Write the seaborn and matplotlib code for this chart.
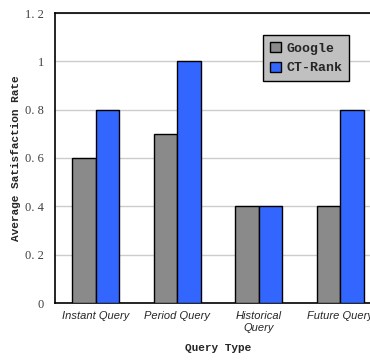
import pandas as pd
import matplotlib
matplotlib.use("Agg")
import matplotlib.pyplot as plt
import seaborn as sns

categories = ["Instant Query", "Period Query", "Historical\nQuery", "Future Query"]
google = [0.6, 0.7, 0.4, 0.4]
ct_rank = [0.8, 1.0, 0.4, 0.8]
series_names = ["Google", "CT-Rank"]
y_ticks = [0, 0.2, 0.4, 0.6, 0.8, 1.0, 1.2]
y_tick_labels = ["0", "0. 2", "0. 4", "0. 6", "0. 8", "1", "1. 2"]

df = pd.DataFrame({
    "category": categories * 2,
    "value": google + ct_rank,
    "series": [series_names[0]] * len(categories) + [series_names[1]] * len(categories),
})

sns.set_style("white")

fig = plt.figure(figsize=(3.7, 3.6), dpi=100)
ax = fig.add_axes([55 / 370, 57 / 360, 326 / 370, 290 / 360])

sns.barplot(data=df, x="category", y="value", hue="series", order=categories,
            hue_order=series_names, palette=["#8a8a8a", "#3366ff"],
            width=0.58, edgecolor="black", linewidth=1.0, saturation=1,
            ax=ax, zorder=3)

ax.set_xlim(-0.5, 3.5)
ax.set_ylim(0, 1.2)
ax.set_yticks(y_ticks)
ax.set_yticklabels(y_tick_labels, family="Liberation Serif", fontsize=9, color="#404040")
for lab in ax.get_xticklabels():
    lab.set_family("Liberation Sans")
    lab.set_style("italic")
    lab.set_fontsize(8)
ax.tick_params(axis="x", length=0, pad=6)
ax.tick_params(axis="y", length=0, pad=8)
ax.set_xticks([0.5, 1.5, 2.5], minor=True)
ax.tick_params(axis="x", which="minor", direction="in", length=4, width=0.8, color="#444444")

ax.yaxis.grid(True, color="#cccccc", linewidth=1.0, zorder=0)
ax.set_axisbelow(True)
for side in ["left", "bottom", "top"]:
    ax.spines[side].set_color("black")
    ax.spines[side].set_linewidth(1.2)
ax.spines["right"].set_visible(False)

ax.set_xlabel("Query Type", family="Liberation Mono", fontweight="bold", fontsize=8, labelpad=7)
ax.set_ylabel("Average Satisfaction Rate", family="Liberation Mono", fontweight="bold", fontsize=8, labelpad=3)

leg = ax.legend(loc="upper left", bbox_to_anchor=(0.638, 0.924), borderaxespad=0,
                frameon=True, fancybox=False,
                handlelength=0.8, handleheight=0.8, handletextpad=0.4, borderpad=0.55,
                labelspacing=0.5, prop={"family": "Liberation Mono", "weight": "bold", "size": 9.5})
leg.get_frame().set_facecolor("#c0c0c0")
leg.get_frame().set_edgecolor("black")
leg.get_frame().set_linewidth(1.0)
leg.get_frame().set_alpha(1)

fig.savefig("out.png", dpi=100)
